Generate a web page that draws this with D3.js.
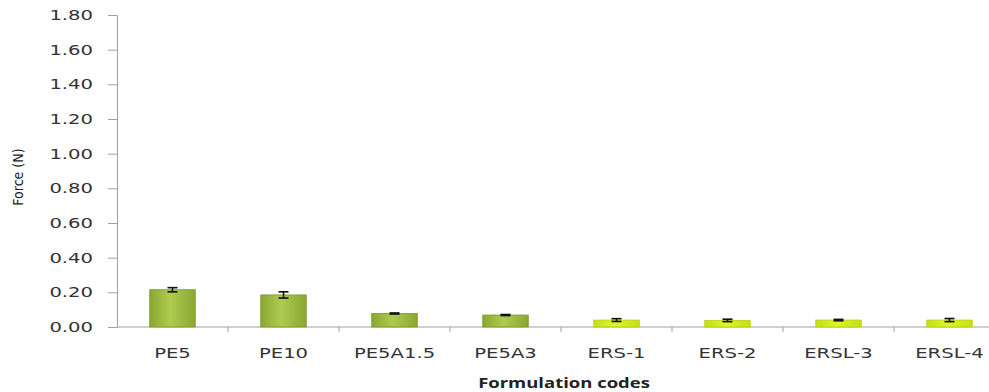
<!DOCTYPE html>
<html><head><meta charset="utf-8">
<script src="https://cdn.jsdelivr.net/npm/d3@7"></script>
<style>body{margin:0;background:#fff}svg{display:block}</style>
</head><body>
<svg id="c" width="989" height="392"></svg>
<script>
const categories = ["PE5","PE10","PE5A1.5","PE5A3","ERS-1","ERS-2","ERSL-3","ERSL-4"];
const values = [0.215, 0.185, 0.078, 0.069, 0.040, 0.038, 0.040, 0.040];
const errors = [0.012, 0.018, 0.003, 0.003, 0.008, 0.007, 0.004, 0.009];
const groups = ["PE","PE","PE","PE","ERS","ERS","ERS","ERS"];
const yTicks = [0,0.2,0.4,0.6,0.8,1.0,1.2,1.4,1.6,1.8];

const SX = 1.4; // horizontal stretch of the reference lettering
const svg = d3.select("#c");
const x = d3.scaleBand().domain(categories).range([117, 1005]).paddingInner(0.59).paddingOuter(0.295);
const y = d3.scaleLinear().domain([0, 1.8]).range([327, 15]);

const defs = svg.append("defs");
function grad(id, edge, mid){
  const g = defs.append("linearGradient").attr("id", id).attr("x1","0").attr("x2","1").attr("y1","0").attr("y2","0");
  g.append("stop").attr("offset","0").attr("stop-color", edge);
  g.append("stop").attr("offset","0.45").attr("stop-color", mid);
  g.append("stop").attr("offset","1").attr("stop-color", edge);
}
grad("gPE", "#8aa830", "#aecb50");
grad("gERS", "#c4e010", "#def52c");

const FONT = "Verdana, 'DejaVu Sans', sans-serif";

// y axis
const yAxis = d3.axisLeft(y).tickValues(yTicks).tickFormat(d3.format(".2f")).tickSize(9).tickPadding(15);
const ya = svg.append("g").attr("transform","translate(117,0)").call(yAxis);
ya.select(".domain").attr("stroke","#a0a0a0");
ya.selectAll(".tick line").attr("stroke","#a0a0a0");
ya.selectAll(".tick text").each(function(){
  const t = d3.select(this);
  const xx = +t.attr("x");
  t.attr("x", null).attr("transform", `translate(${xx},0) scale(${SX},1)`);
}).attr("font-family",FONT).attr("font-size",14).attr("fill","#333");

// x axis
const xa = svg.append("g").attr("transform","translate(0,327)");
xa.append("line").attr("x1",117).attr("x2",1005).attr("stroke","#a0a0a0");
const step = x.step();
xa.selectAll("line.t").data(categories).enter().append("line").attr("class","t")
  .attr("x1", d => x(d) - (step - x.bandwidth())/2 + step)
  .attr("x2", d => x(d) - (step - x.bandwidth())/2 + step)
  .attr("y1",0).attr("y2",5).attr("stroke","#a0a0a0");
xa.selectAll("text").data(categories).enter().append("text")
  .attr("transform", d => `translate(${x(d) + x.bandwidth()/2},31) scale(${SX},1)`)
  .attr("text-anchor","middle").attr("font-family",FONT)
  .attr("font-size",14).attr("fill","#333").text(d => d);

// bars
svg.selectAll("rect.bar").data(categories).enter().append("rect").attr("class","bar")
  .attr("x", d => x(d)).attr("width", x.bandwidth())
  .attr("y", (d,i) => y(values[i])).attr("height", (d,i) => y(0) - y(values[i]))
  .attr("fill", (d,i) => groups[i] === "PE" ? "url(#gPE)" : "url(#gERS)")
  .attr("stroke", (d,i) => groups[i] === "PE" ? "#7a962a" : "#b8d018").attr("stroke-width",0.8);

// error bars
const eb = svg.append("g").attr("stroke","#111").attr("stroke-width",1.6);
categories.forEach((c,i) => {
  const cx = x(c) + x.bandwidth()/2;
  const y1 = y(values[i] + errors[i]), y2 = y(values[i] - errors[i]);
  eb.append("line").attr("x1",cx).attr("x2",cx).attr("y1",y1).attr("y2",y2);
  eb.append("line").attr("x1",cx-5).attr("x2",cx+5).attr("y1",y1).attr("y2",y1);
  eb.append("line").attr("x1",cx-5).attr("x2",cx+5).attr("y1",y2).attr("y2",y2);
});

// titles
svg.append("text").attr("transform","translate(23,177) rotate(-90)").attr("text-anchor","middle")
  .attr("font-family","'Liberation Sans Narrow', 'DejaVu Sans Condensed', sans-serif").attr("font-size",14).attr("fill","#222").text("Force (N)");
svg.append("text").attr("transform","translate(564,388) scale(1.32,1)").attr("text-anchor","middle")
  .attr("font-family","'Open Sans', 'DejaVu Sans', sans-serif").attr("font-weight","bold").attr("font-size",14).attr("fill","#222").text("Formulation codes");
</script>
</body></html>
